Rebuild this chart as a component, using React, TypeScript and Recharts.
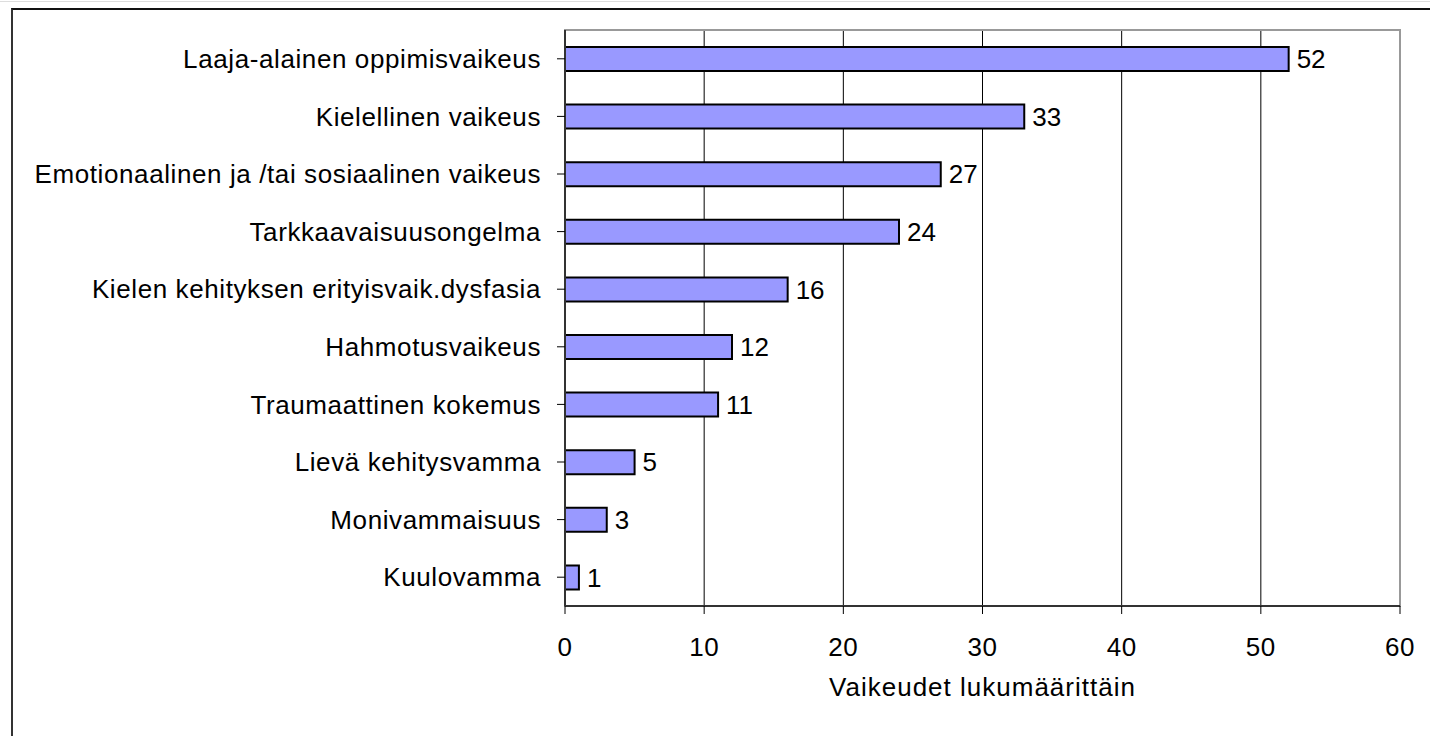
import { BarChart, Bar, XAxis, YAxis, CartesianGrid, ReferenceArea, LabelList } from "recharts";

const categories = [
  "Laaja-alainen oppimisvaikeus",
  "Kielellinen vaikeus",
  "Emotionaalinen ja /tai sosiaalinen vaikeus",
  "Tarkkaavaisuusongelma",
  "Kielen kehityksen erityisvaik.dysfasia",
  "Hahmotusvaikeus",
  "Traumaattinen kokemus",
  "Lievä kehitysvamma",
  "Monivammaisuus ",
  "Kuulovamma",
];
const counts = [52, 33, 27, 24, 16, 12, 11, 5, 3, 1];
const xTicks = [0, 10, 20, 30, 40, 50, 60];
const xTitle = "Vaikeudet lukumäärittäin";

const data = categories.map((name, i) => ({ name, value: counts[i] }));

const font = "'Liberation Sans', Arial, sans-serif";

export default function App() {
  return (
    <div style={{ position: "absolute", left: 0, top: 0, width: 1430, height: 736, overflow: "hidden", background: "#fff", fontFamily: font }}>
      <div style={{ position: "absolute", left: 0, top: 1, width: 1430, borderTop: "1px solid #ddd" }} />
      <div style={{ position: "absolute", left: 11, top: 8, width: 1500, height: 800, borderLeft: "2px solid #333", borderTop: "2px solid #111" }} />
      <div style={{ position: "absolute", left: 0, top: 0 }}>
        <BarChart width={1430} height={736} data={data} layout="vertical" margin={{ top: 30, right: 30, bottom: 0, left: 0 }} barSize={24}>
          <CartesianGrid horizontal={false} stroke="#000" strokeWidth={1} />
          <ReferenceArea x1={0} x2={60} fill="none" stroke="#999" strokeWidth={2} ifOverflow="visible" />
          <XAxis
            type="number"
            domain={[0, 60]}
            ticks={xTicks}
            height={130}
            axisLine={{ stroke: "#333", strokeWidth: 2 }}
            tickLine={{ stroke: "#000", strokeWidth: 1 }}
            tickSize={8}
            tickMargin={24}
            tick={{ fontSize: 26, fill: "#000", fontFamily: font, letterSpacing: 0.5 }}
            label={{ value: xTitle, position: "insideBottom", offset: 40, fontSize: 26, fill: "#000", fontFamily: font, letterSpacing: 1 }}
          />
          <YAxis
            type="category"
            dataKey="name"
            width={565}
            interval={0}
            axisLine={{ stroke: "#333", strokeWidth: 2 }}
            tickLine={{ stroke: "#000", strokeWidth: 1 }}
            tickSize={8}
            tickMargin={16}
            tick={{ fontSize: 26, fill: "#000", fontFamily: font, letterSpacing: 0.6 }}
          />
          <Bar dataKey="value" fill="#9999FF" stroke="#000" strokeWidth={2} isAnimationActive={false}>
            <LabelList dataKey="value" position="right" offset={8} fill="#000" fontSize={26} fontFamily={font} />
          </Bar>
        </BarChart>
      </div>
    </div>
  );
}
